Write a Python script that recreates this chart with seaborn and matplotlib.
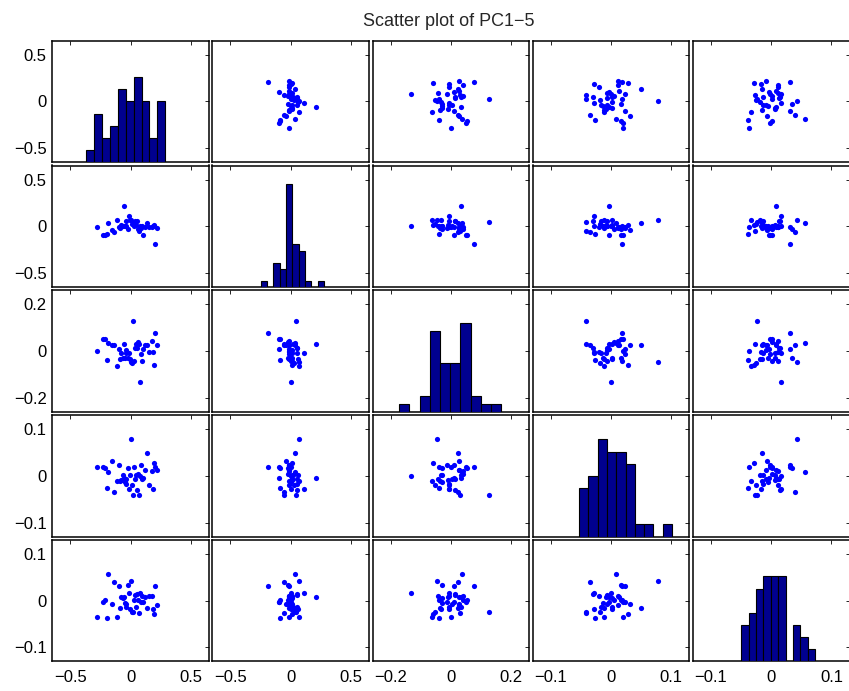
import numpy as np
import pandas as pd
import matplotlib
matplotlib.use("Agg")
import matplotlib.pyplot as plt
from matplotlib.ticker import FuncFormatter
import seaborn as sns

# ---- data (40 observations, 5 principal components) ----
pc1 = [-0.283, -0.228, -0.212, -0.200, -0.192, -0.156, -0.140, -0.110, -0.098, -0.088,
       -0.078, -0.066, -0.055, -0.050, -0.042, -0.035, -0.025, -0.012, -0.005, 0.005,
       0.012, 0.022, 0.030, 0.038, 0.045, 0.052, 0.060, 0.066, 0.075, 0.085,
       0.095, 0.105, 0.115, 0.135, 0.155, 0.175, 0.185, 0.195, 0.205, 0.220]
pc2 = [-0.011, -0.098, -0.090, -0.087, 0.036, -0.040, -0.058, 0.072, -0.011, -0.018,
       0.014, 0.007, 0.213, 0.000, 0.007, 0.054, -0.025, 0.109, 0.062, 0.072,
       0.025, 0.047, 0.000, 0.054, 0.018, 0.054, -0.027, -0.054, 0.000, -0.018,
       0.007, -0.098, -0.011, 0.036, -0.011, -0.011, 0.000, 0.014, -0.192, -0.014]
pc3 = [0.000, 0.051, 0.052, -0.039, 0.036, 0.028, 0.025, -0.062, 0.009, -0.036,
       -0.010, -0.029, 0.032, -0.030, 0.004, -0.007, -0.029, -0.007, -0.032, -0.046,
       -0.052, 0.128, -0.041, 0.014, 0.032, 0.014, 0.039, 0.029, -0.132, -0.012,
       -0.042, 0.009, 0.026, 0.025, -0.006, 0.041, -0.006, -0.061, 0.077, 0.026]
pc4 = [0.020, 0.020, 0.017, -0.026, 0.009, 0.031, -0.035, -0.012, 0.023, -0.012,
       -0.009, 0.001, -0.004, -0.013, -0.006, -0.017, 0.016, -0.028, 0.002, 0.078,
       -0.019, -0.041, 0.018, -0.007, 0.002, -0.030, 0.005, -0.041, 0.000, 0.023,
       -0.006, -0.004, 0.013, 0.049, -0.020, 0.011, -0.029, 0.028, 0.019, 0.012]
pc5 = [-0.036, -0.002, 0.001, -0.038, 0.056, -0.007, 0.039, -0.034, 0.031, -0.015,
       0.007, 0.006, 0.008, -0.005, -0.008, -0.014, 0.034, 0.017, -0.018, 0.043,
       -0.025, -0.024, 0.001, 0.013, -0.014, 0.014, 0.001, -0.027, 0.016, -0.002,
       0.011, -0.003, 0.008, -0.015, 0.011, 0.011, -0.017, -0.028, 0.031, -0.009]

names = ["PC1", "PC2", "PC3", "PC4", "PC5"]
inner_lim = [0.5, 0.5, 0.2, 0.1, 0.1]          # histogram axes range (+/-)
tick_vals = [[-0.5, 0, 0.5], [-0.5, 0, 0.5], [-0.2, 0, 0.2], [-0.1, 0, 0.1], [-0.1, 0, 0.1]]
hist_top = [10, 20, 15, 10, 10]
title = "Scatter plot of PC1\u22125"

df = pd.DataFrame(dict(zip(names, [pc1, pc2, pc3, pc4, pc5])))

sns.set_style("white")
plt.rcParams["font.family"] = ["Liberation Sans", "DejaVu Sans"]

W, H = 849, 691
fig = plt.figure(figsize=(W / 100, H / 100), dpi=100)

fmt = FuncFormatter(lambda v, p: f"{v:g}".replace("-", "\u2212"))
n = len(names)
for i in range(n):          # rows -> y variable
    for j in range(n):      # cols -> x variable
        left = 52.3 + 160.1 * j
        top = 40.7 + 124.8 * i
        ax = fig.add_axes([left / W, 1 - (top + 121.5) / H, 156.8 / W, 121.5 / H])
        xl = inner_lim[j] * 1.3
        yl = inner_lim[i] * 1.3
        if i != j:
            sns.scatterplot(x=df[names[j]], y=df[names[i]], ax=ax, color="#0000ff",
                            s=14, linewidth=0, legend=False)
        ax.set_xlim(-xl, xl)
        ax.set_ylim(-yl, yl)
        ax.set_xlabel("")
        ax.set_ylabel("")
        ax.set_xticks(tick_vals[j])
        ax.set_yticks(tick_vals[i])
        ax.xaxis.set_major_formatter(fmt)
        ax.yaxis.set_major_formatter(fmt)
        ax.tick_params(direction="in", length=3, width=0.6, top=True, right=True,
                       labelsize=12, colors="black")
        ax.tick_params(axis="x", pad=6)
        ax.tick_params(axis="y", pad=4)
        ax.tick_params(labelbottom=(i == n - 1), labelleft=(j == 0))
        for sp in ax.spines.values():
            sp.set_linewidth(1.1)
            sp.set_color("black")
        if i == j:
            hax = ax.inset_axes([0, 0, 1, 1])
            sns.histplot(x=df[names[i]], bins=10, ax=hax, color="#00008f",
                         edgecolor="black", linewidth=0.8, alpha=1)
            hax.set_xlim(-inner_lim[i], inner_lim[i])
            hax.set_ylim(0, hist_top[i])
            hax.set_xlabel("")
            hax.set_ylabel("")
            hax.set_xticks([])
            hax.set_yticks([])
            hax.set_axis_off()

fig.text(449 / W, 1 - 21 / H, title, ha="center", va="center", fontsize=13)

fig.savefig("out.png", dpi=100)
